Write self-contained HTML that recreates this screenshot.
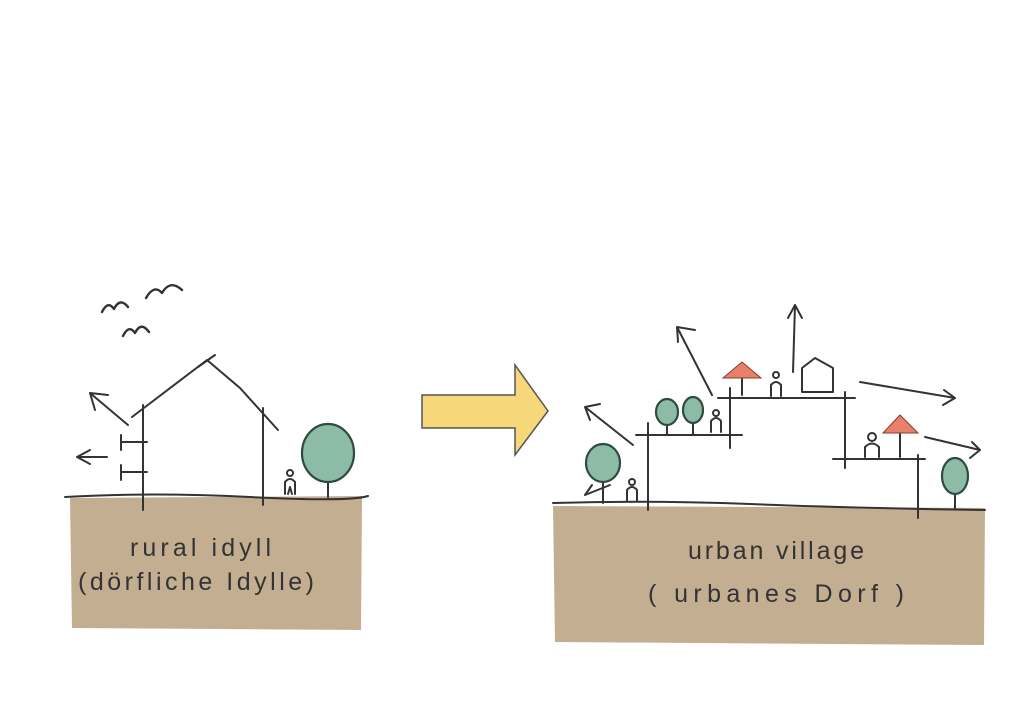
<!DOCTYPE html>
<html><head><meta charset="utf-8"><style>
html,body{margin:0;padding:0;background:#fff;width:1024px;height:724px;overflow:hidden}
svg{display:block}
text{font-family:"Liberation Sans",sans-serif;fill:#333;font-size:25px;letter-spacing:4px}
</style></head><body>
<svg width="1024" height="724" viewBox="0 0 1024 724" xmlns="http://www.w3.org/2000/svg">
<g fill="#c4ae92">
<path d="M70 498 L362 496 L361 630 L72 628 Z"/>
<path d="M553 506 L985 508 L984 645 L555 642 Z"/>
</g>
<g fill="none" stroke="#333" stroke-width="2" stroke-linecap="round" stroke-linejoin="round">
<path d="M65 497 Q150 492 250 497 T368 496"/>
<path d="M143 405 L143 510 M263 408 L263 505"/>
<path d="M132 417 L207 360 L240 388 L278 430 M198 367 L215 355"/>
<path d="M128 425 L90 393 M90 393 L108 395 M90 393 L95 410"/>
<path d="M107 457 L77 457 M77 457 L90 450 M77 457 L90 464"/>
<path d="M121 442 L147 442 M121 472 L147 472 M121 435 L121 450 M121 465 L121 480"/>
<path d="M102 312 q6 -12 12 -3 q6 -12 14 -2 M146 298 q8 -14 16 -5 q8 -14 20 -3 M123 336 q6 -12 12 -3 q6 -12 14 -1" stroke-width="2.4"/>
<circle cx="290" cy="473" r="3"/>
<path d="M285 494 L285 482 Q290 476 295 482 L295 494 M288 494 L290 487 L292 494"/>
<path d="M553 503 Q650 500 750 504 T985 510"/>
<path d="M648 423 L648 510 M636 435 L742 435 M730 388 L730 448 M718 398 L855 398 M845 392 L845 468 M833 459 L925 459 M918 455 L918 518"/>
<path d="M712 395 L677 327 M677 327 L695 330 M677 327 L678 342"/>
<path d="M793 372 L795 305 M795 305 L788 318 M795 305 L802 318"/>
<path d="M860 382 L955 398 M955 398 L944 390 M955 398 L943 405"/>
<path d="M925 437 L980 450 M980 450 L972 442 M980 450 L970 458"/>
<path d="M633 445 L585 407 M585 407 L600 404 M585 407 L590 420"/>
<path d="M610 485 L585 495 M585 495 L592 485"/>
<path d="M802 392 L802 368 L815 358 L833 368 L833 392 Z"/>
<path d="M742 378 L742 395 M900 433 L900 457"/>
<g>
<circle cx="776" cy="375" r="3"/><path d="M771 396 L771 385 Q776 379 781 385 L781 396"/>
<circle cx="716" cy="413" r="3"/><path d="M711 432 L711 421 Q716 415 721 421 L721 432"/>
<circle cx="632" cy="482" r="3"/><path d="M627 501 L627 490 Q632 484 637 490 L637 501"/>
<circle cx="872" cy="437" r="4"/><path d="M865 457 L865 447 Q872 440 879 447 L879 457"/>
</g>
<path d="M667 425 L667 435 M693 423 L693 435 M603 482 L603 503 M955 494 L955 508 M328 483 L328 497"/>
</g>
<g fill="#8cbca6" stroke="#2f4a40" stroke-width="2.2">
<ellipse cx="328" cy="453" rx="26" ry="29"/>
<ellipse cx="667" cy="412" rx="11" ry="13"/>
<ellipse cx="693" cy="410" rx="10" ry="13"/>
<ellipse cx="603" cy="463" rx="17" ry="19"/>
<ellipse cx="955" cy="476" rx="13" ry="18"/>
</g>
<g fill="#e9806b" stroke="#8a3a2c" stroke-width="1">
<path d="M723 378 L742 362 L761 378 Z"/>
<path d="M883 433 L900 415 L918 433 Z"/>
</g>
<path d="M422 395 L515 395 L515 365 L548 411 L515 455 L515 428 L422 428 Z" fill="#f6d77a" stroke="#555" stroke-width="1.5"/>
<text x="130" y="556" textLength="145" lengthAdjust="spacing">rural idyll</text>
<text x="78" y="590" textLength="240" lengthAdjust="spacing">(dörfliche Idylle)</text>
<text x="688" y="559" textLength="180" lengthAdjust="spacing">urban village</text>
<text x="648" y="602" textLength="260" lengthAdjust="spacing">( urbanes Dorf )</text>
</svg>
</body></html>
